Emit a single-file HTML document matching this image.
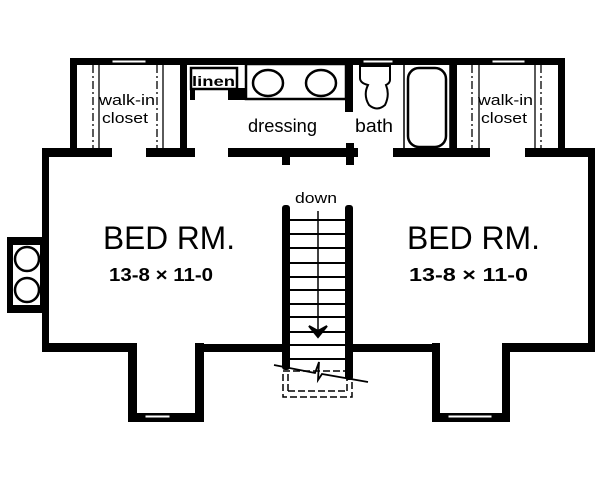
<!DOCTYPE html>
<html><head><meta charset="utf-8"><style>
html,body{margin:0;padding:0;background:#fff;}
svg{display:block;}
text{font-family:"Liberation Sans",sans-serif;fill:#000;}
</style></head><body>
<svg width="600" height="495" viewBox="0 0 600 495" xmlns="http://www.w3.org/2000/svg">
<g fill="#000">
<!-- top wall -->
<rect x="70" y="58" width="495" height="7"/>
<!-- top section verticals -->
<rect x="70" y="58" width="7" height="98"/>
<rect x="180" y="58" width="7" height="98"/>
<rect x="345" y="58" width="8" height="54"/>
<rect x="450" y="58" width="7" height="98"/>
<rect x="558" y="58" width="7" height="98"/>
<!-- main top wall segments -->
<rect x="42" y="148" width="70" height="9"/>
<rect x="146" y="148" width="49" height="9"/>
<rect x="228" y="148" width="130" height="9"/>
<rect x="282" y="148" width="8" height="17"/>
<rect x="346" y="143" width="8" height="22"/>
<rect x="393" y="148" width="97" height="9"/>
<rect x="525" y="148" width="70" height="9"/>
<!-- main side walls -->
<rect x="42" y="148" width="7" height="204"/>
<rect x="588" y="148" width="7" height="204"/>
<!-- bottom walls -->
<rect x="42" y="343" width="95" height="9"/>
<rect x="128" y="343" width="9" height="79"/>
<rect x="128" y="413" width="75" height="9"/>
<rect x="195" y="343" width="9" height="79"/>
<rect x="195" y="344" width="90" height="8"/>
<rect x="350" y="344" width="90" height="8"/>
<rect x="432" y="343" width="8" height="79"/>
<rect x="432" y="413" width="78" height="9"/>
<rect x="502" y="343" width="8" height="79"/>
<rect x="502" y="343" width="93" height="9"/>
<!-- stair walls -->
<rect x="282" y="205" width="8" height="165" rx="3"/>
<rect x="345" y="205" width="8" height="175" rx="3"/>
<!-- fireplace -->
<rect x="7" y="237" width="41" height="76"/>
<!-- linen stubs -->
<rect x="190" y="88" width="5" height="12"/>
<rect x="228" y="88" width="18" height="12"/>
</g>
<!-- windows -->
<g fill="#fff" stroke="#000" stroke-width="1">
<rect x="112" y="60" width="34" height="3"/>
<rect x="363" y="60" width="30" height="3"/>
<rect x="492" y="60" width="33" height="3"/>
<rect x="145" y="415" width="25" height="3"/>
<rect x="448" y="415" width="44" height="3"/>
</g>
<!-- fireplace inner -->
<rect x="13" y="245" width="27" height="60" fill="#fff"/>
<g fill="none" stroke="#000" stroke-width="2.5">
<circle cx="27" cy="259" r="12"/>
<circle cx="27" cy="290" r="12"/>
</g>
<!-- closet dash-dots -->
<g stroke="#000" stroke-width="1.3" fill="none">
<line x1="93" y1="65" x2="93" y2="148" stroke-dasharray="8 3 2 3"/>
<line x1="99" y1="65" x2="99" y2="148"/>
<line x1="157" y1="65" x2="157" y2="148" stroke-dasharray="8 3 2 3"/>
<line x1="163" y1="65" x2="163" y2="148"/>
<line x1="472" y1="65" x2="472" y2="148" stroke-dasharray="8 3 2 3"/>
<line x1="479" y1="65" x2="479" y2="148"/>
<line x1="535" y1="65" x2="535" y2="148"/>
<line x1="541" y1="65" x2="541" y2="148" stroke-dasharray="8 3 2 3"/>
</g>
<!-- linen, vanity -->
<rect x="191" y="68" width="46" height="21" fill="#fff" stroke="#000" stroke-width="2.5"/>
<rect x="246" y="64" width="100" height="35" fill="none" stroke="#000" stroke-width="2.5"/>
<ellipse cx="268" cy="83" rx="15" ry="13" fill="none" stroke="#000" stroke-width="2.5"/>
<ellipse cx="321" cy="83" rx="15" ry="13" fill="none" stroke="#000" stroke-width="2.5"/>
<!-- toilet -->
<path d="M360 66 H390 V80 Q390 83 386 85 Q390 95 385 105 Q377 112 369 105 Q363 95 368 85 Q360 83 360 78 Z" fill="#fff" stroke="#000" stroke-width="2"/>
<!-- tub -->
<rect x="404" y="64" width="46" height="86" fill="none" stroke="#000" stroke-width="1.5"/>
<rect x="408" y="68" width="38" height="79" rx="11" fill="none" stroke="#000" stroke-width="2.5"/>
<!-- stairs -->
<g stroke="#000" stroke-width="2">
<line x1="290" y1="220" x2="345" y2="220"/>
<line x1="290" y1="234" x2="345" y2="234"/>
<line x1="290" y1="248" x2="345" y2="248"/>
<line x1="290" y1="263" x2="345" y2="263"/>
<line x1="290" y1="277" x2="345" y2="277"/>
<line x1="290" y1="290" x2="345" y2="290"/>
<line x1="290" y1="304" x2="345" y2="304"/>
<line x1="290" y1="317" x2="345" y2="317"/>
<line x1="290" y1="332" x2="345" y2="332"/>
<line x1="290" y1="345" x2="345" y2="345"/>
<line x1="290" y1="359" x2="345" y2="359"/>
<line x1="318" y1="211" x2="318" y2="334" stroke-width="1.5"/>
</g>
<path d="M309 326 L318 337 L327 326 L318 331 Z" fill="#000" stroke="#000" stroke-width="2"/>
<path d="M274 365 L315 373 L319 362 L318 380 L322 374 L368 382" fill="none" stroke="#000" stroke-width="1.8"/>
<g fill="none" stroke="#000" stroke-width="1.5" stroke-dasharray="7 3">
<rect x="283" y="371" width="69" height="26"/>
<line x1="288" y1="391" x2="347" y2="391"/>
<line x1="288" y1="374" x2="288" y2="391"/>
<line x1="347" y1="374" x2="347" y2="391"/>
</g>
<!-- labels -->
<text x="192" y="86" font-size="14" font-weight="bold" textLength="43" lengthAdjust="spacingAndGlyphs">linen</text>
<text x="99" y="105" font-size="15" textLength="56" lengthAdjust="spacingAndGlyphs">walk-in</text>
<text x="102" y="123" font-size="15" textLength="46" lengthAdjust="spacingAndGlyphs">closet</text>
<text x="478" y="105" font-size="15" textLength="55" lengthAdjust="spacingAndGlyphs">walk-in</text>
<text x="481" y="123" font-size="15" textLength="46" lengthAdjust="spacingAndGlyphs">closet</text>
<text x="248" y="132" font-size="18" textLength="69" lengthAdjust="spacingAndGlyphs">dressing</text>
<text x="355" y="132" font-size="18" textLength="38" lengthAdjust="spacingAndGlyphs">bath</text>
<text x="295" y="203" font-size="15" textLength="42" lengthAdjust="spacingAndGlyphs">down</text>
<text x="103" y="249" font-size="32" textLength="132" lengthAdjust="spacingAndGlyphs">BED RM.</text>
<text x="407" y="249" font-size="32" textLength="133" lengthAdjust="spacingAndGlyphs">BED RM.</text>
<text x="109" y="281" font-size="18" font-weight="bold" textLength="104" lengthAdjust="spacingAndGlyphs">13-8 × 11-0</text>
<text x="409" y="281" font-size="18" font-weight="bold" textLength="119" lengthAdjust="spacingAndGlyphs">13-8 × 11-0</text>
</svg>
</body></html>
